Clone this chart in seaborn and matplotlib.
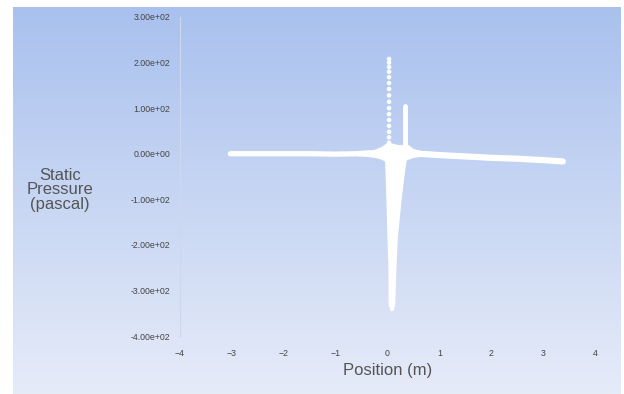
import numpy as np
import matplotlib
matplotlib.use("Agg")
import matplotlib.pyplot as plt
import seaborn as sns
from matplotlib.ticker import FuncFormatter

# horizontal band left of the nozzle (position m, pressure Pa)
left_x = [-3.03, -2.5, -2.0, -1.5, -1.0, -0.6, -0.35]
left_p = [0, 0, 0, 0, -1, 0, 2]

# horizontal band right of the nozzle
right_x = [0.45, 1.0, 1.5, 2.0, 2.5, 3.0, 3.38]
right_p = [1, -3, -6, -9, -11, -14, -17]

# dotted upward spike
up_x = [0.03] * 16
up_p = [208, 200, 190, 180, 168, 155, 142, 128, 114, 100, 87, 74, 61, 48, 36, 24]

# second short spike
spike2_x = [0.33, 0.33, 0.33]
spike2_p = [105, 60, 10]

# downward spike edges
down_p = [0, -37, -103, -184, -256, -329, -344]
down_left = [-0.06, -0.05, -0.03, -0.01, 0.01, 0.01, 0.05]
down_right = [0.38, 0.33, 0.26, 0.19, 0.16, 0.14, 0.11]

# junction blob
blob_x = [-0.6, -0.4, -0.25, -0.12, 0.0, 0.2, 0.4, 0.5, 0.65, 0.85]
blob_up = [5, 7, 10, 16, 26, 20, 20, 11, 7, 5]
blob_lo = [-5, -6, -8, -12, -20, -20, -12, -8, -6, -5]

x_ticks = [-4, -3, -2, -1, 0, 1, 2, 3, 4]
y_ticks = [300, 200, 100, 0, -100, -200, -300, -400]

sns.set_theme(style="white")
plt.rcParams['font.family'] = ['Liberation Sans', 'DejaVu Sans']

fig = plt.figure(figsize=(6.24, 3.94), dpi=100)

# gradient background
bg = fig.add_axes([13 / 624, 0, 608 / 624, 387 / 394])
top = np.array([0.663, 0.757, 0.933])
bot = np.array([0.902, 0.922, 0.973])
t = np.linspace(0, 1, 256)[:, None]
grad = (top[None, :] * (1 - t) + bot[None, :] * t)[:, None, :]
bg.imshow(grad, aspect='auto', extent=[0, 1, 0, 1])
bg.set_axis_off()

ax = fig.add_axes([180 / 624, 58 / 394, 415 / 624, 319 / 394])
ax.set_facecolor('none')

w = 'white'
sns.lineplot(x=left_x, y=left_p, ax=ax, color=w, lw=3.8, sort=False, estimator=None)
sns.lineplot(x=right_x, y=right_p, ax=ax, color=w, lw=4.5, sort=False, estimator=None)
sns.lineplot(x=spike2_x, y=spike2_p, ax=ax, color=w, lw=3.5, sort=False,
             estimator=None, solid_capstyle='round')
sns.scatterplot(x=up_x, y=up_p, ax=ax, color=w, s=11, marker='o', edgecolor='none',
                alpha=0.95)
ax.fill_betweenx(down_p, down_left, down_right, color=w, lw=0)
ax.fill_between(blob_x, blob_lo, blob_up, color=w, lw=0)

ax.set_xlim(-4, 4)
ax.set_ylim(-400, 300)
ax.set_xticks(x_ticks)
ax.set_yticks(y_ticks)
ax.yaxis.set_major_formatter(FuncFormatter(lambda v, p: f"{v:.2e}"))
ax.tick_params(axis='both', length=0, labelsize=6.3, colors='#444444')
ax.tick_params(axis='y', pad=7)
ax.tick_params(axis='x', pad=9)
for s in ['top', 'right', 'bottom']:
    ax.spines[s].set_visible(False)
ax.spines['left'].set_color('#cdd8f0')
ax.spines['left'].set_linewidth(0.8)

ax.set_xlabel('Position (m)', fontsize=12, color='#555555', labelpad=4)
fig.text(60 / 624, 1 - 190 / 394, 'Static\nPressure\n(pascal)', fontsize=12,
         color='#555555', ha='center', va='center', linespacing=0.95)

fig.savefig('out.png', dpi=100)
